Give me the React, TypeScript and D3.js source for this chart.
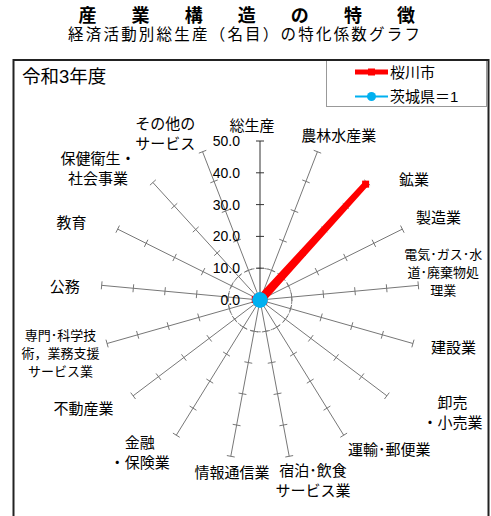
import React from 'react';
import * as d3 from 'd3';

const CATEGORIES = ['総生産', '農林水産業', '鉱業', '製造業', '電気・ガス・水道・廃棄物処理業', '建設業', '卸売・小売業', '運輸・郵便業', '宿泊・飲食サービス業', '情報通信業', '金融・保険業', '不動産業', '専門・科学技術、業務支援サービス業', '公務', '教育', '保健衛生・社会事業', 'その他のサービス'];
const LABEL_LINES = [
  ['総生産'], ['農林水産業'], ['鉱業'], ['製造業'], ['電気･ガス･水', '道･廃棄物処', '理業'], ['建設業'], ['卸売', '・小売業'], ['運輸･郵便業'], ['宿泊･飲食', 'サービス業'], ['情報通信業'], ['金融', '・保険業'], ['不動産業'], ['専門･科学技', '術，業務支援', 'サービス業'], ['公務'], ['教育'], ['保健衛生・', '社会事業'], ['その他の', 'サービス'],
];
const SAKURAGAWA = [1.0, 1.2, 49.3, 1.3, 0.6, 1.2, 0.8, 0.8, 0.7, 0.3, 0.6, 1.0, 0.5, 1.5, 1.0, 1.0, 1.0];
const IBARAKI = [1, 1, 1, 1, 1, 1, 1, 1, 1, 1, 1, 1, 1, 1, 1, 1, 1];
const TICKS = [0, 10, 20, 30, 40, 50];
const SERIES_NAMES = ['桜川市', '茨城県＝1'];
const TITLE = '産業構造の特徴';
const SUBTITLE = '経済活動別総生産（名目）の特化係数グラフ';
const YEAR = '令和3年度';

// layout (not data)
const LABEL_NUDGE = [[-8, 21], [8, 18], [22, 24], [3, 5], [-12, -9], [5, -6], [36, -6], [26, -17], [17, -12], [8, -20], [-17, -14], [-20, -10], [-11, 0], [0, 5], [-13, 10], [-30, 13], [-24, 16]];

const FONT = '"Liberation Sans", "Noto Sans CJK JP", sans-serif';

export default function App() {
  const W = 491, H = 516;
  const cx = 260, cy = 300;
  const r = d3.scaleLinear().domain([0, 50]).range([0, 159]);
  const n = CATEGORIES.length;
  const ang = d3.scaleLinear().domain([0, n]).range([0, 2 * Math.PI]);
  const pt = (i: number, v: number): [number, number] => {
    const a = ang(i);
    return [cx + r(v) * Math.sin(a), cy - r(v) * Math.cos(a)];
  };
  const line = d3.line<number>().x((v, i) => pt(i, v)[0]).y((v, i) => pt(i, v)[1]).curve(d3.curveLinearClosed);
  const titleX = d3.scalePoint<number>().domain(d3.range(TITLE.length)).range([87.5, 406]);

  return (
    <svg width={W} height={H} style={{ position: 'absolute', left: 0, top: 0, background: '#fff' }} fontFamily={FONT}>
      {TITLE.split('').map((c, i) => (
        <text key={i} x={titleX(i)} y={16} textAnchor="middle" dominantBaseline="central" fontSize={18} fontWeight="bold" fill="#000">{c}</text>
      ))}
      <text x={68} y={34.5} dominantBaseline="central" fontSize={15.5} textLength={352} lengthAdjust="spacing" fill="#000">{SUBTITLE}</text>
      <rect x={13.5} y={60} width={475} height={480} fill="#fff" stroke="#222" strokeWidth={2} />
      <text x={22} y={76} dominantBaseline="central" fontSize={18.5} fill="#000">{YEAR}</text>

      {/* dashed reference circle */}
      <circle cx={cx} cy={cy} r={r(10)} fill="none" stroke="#888" strokeWidth={1} strokeDasharray="4,3" />

      {/* axes */}
      {CATEGORIES.map((c, i) => {
        const a = ang(i);
        const [x2, y2] = pt(i, 50);
        const px = Math.cos(a), py = Math.sin(a);
        return (
          <g key={c}>
            <line x1={cx} y1={cy} x2={x2} y2={y2} stroke={i === 0 ? '#333' : '#777'} strokeWidth={1} />
            {TICKS.slice(1).map(t => {
              const [tx, ty] = pt(i, t);
              return <line key={t} x1={tx - 4 * px} y1={ty - 4 * py} x2={tx + 4 * px} y2={ty + 4 * py} stroke={i === 0 ? '#333' : '#777'} strokeWidth={1} />;
            })}
          </g>
        );
      })}

      {/* tick labels */}
      {TICKS.map(t => (
        <text key={t} x={240} y={cy - r(t)} textAnchor="end" dominantBaseline="central" fontSize={14} fill="#000">{t.toFixed(1)}</text>
      ))}

      {/* category labels */}
      {LABEL_LINES.map((lines, i) => {
        const a = ang(i);
        const small = lines.length === 3;
        const fs = small ? 13 : 15;
        const lh = small ? 18 : 20;
        const x = cx + 196 * Math.sin(a) + LABEL_NUDGE[i][0];
        const y = cy - 196 * Math.cos(a) + LABEL_NUDGE[i][1];
        return (
          <g key={i}>
            {lines.map((l, k) => (
              <text key={k} x={x} y={y + (k - (lines.length - 1) / 2) * lh} textAnchor="middle" dominantBaseline="central" fontSize={fs} fill="#000">{l}</text>
            ))}
          </g>
        );
      })}

      {/* series: Sakuragawa */}
      <path d={line(SAKURAGAWA) || ''} fill="none" stroke="#FF0000" strokeWidth={6} strokeLinejoin="round" />
      {SAKURAGAWA.map((v, i) => {
        const [x, y] = pt(i, v);
        return <rect key={i} x={x - 3.5} y={y - 3.5} width={7} height={7} fill="#FF0000" />;
      })}
      {/* series: Ibaraki = 1 */}
      <path d={line(IBARAKI) || ''} fill="none" stroke="#00B0F0" strokeWidth={2} />
      {IBARAKI.map((v, i) => {
        const [x, y] = pt(i, v);
        return <circle key={i} cx={x} cy={y} r={4.5} fill="#00B0F0" />;
      })}

      {/* legend */}
      <rect x={326.5} y={60.5} width={160} height={46} fill="#fff" stroke="#999" strokeWidth={1} />
      <rect x={13.5} y={60} width={475} height={1} fill="#222" />
      <line x1={355} y1={72} x2={388} y2={72} stroke="#FF0000" strokeWidth={5} />
      <rect x={368} y={68.5} width={7} height={7} fill="#FF0000" />
      <text x={390} y={72} dominantBaseline="central" fontSize={15} fill="#000">{SERIES_NAMES[0]}</text>
      <line x1={355} y1={96.5} x2={388} y2={96.5} stroke="#00B0F0" strokeWidth={2} />
      <circle cx={371.5} cy={96.5} r={4.5} fill="#00B0F0" />
      <text x={390} y={96} dominantBaseline="central" fontSize={15} fill="#000">{SERIES_NAMES[1]}</text>
    </svg>
  );
}
